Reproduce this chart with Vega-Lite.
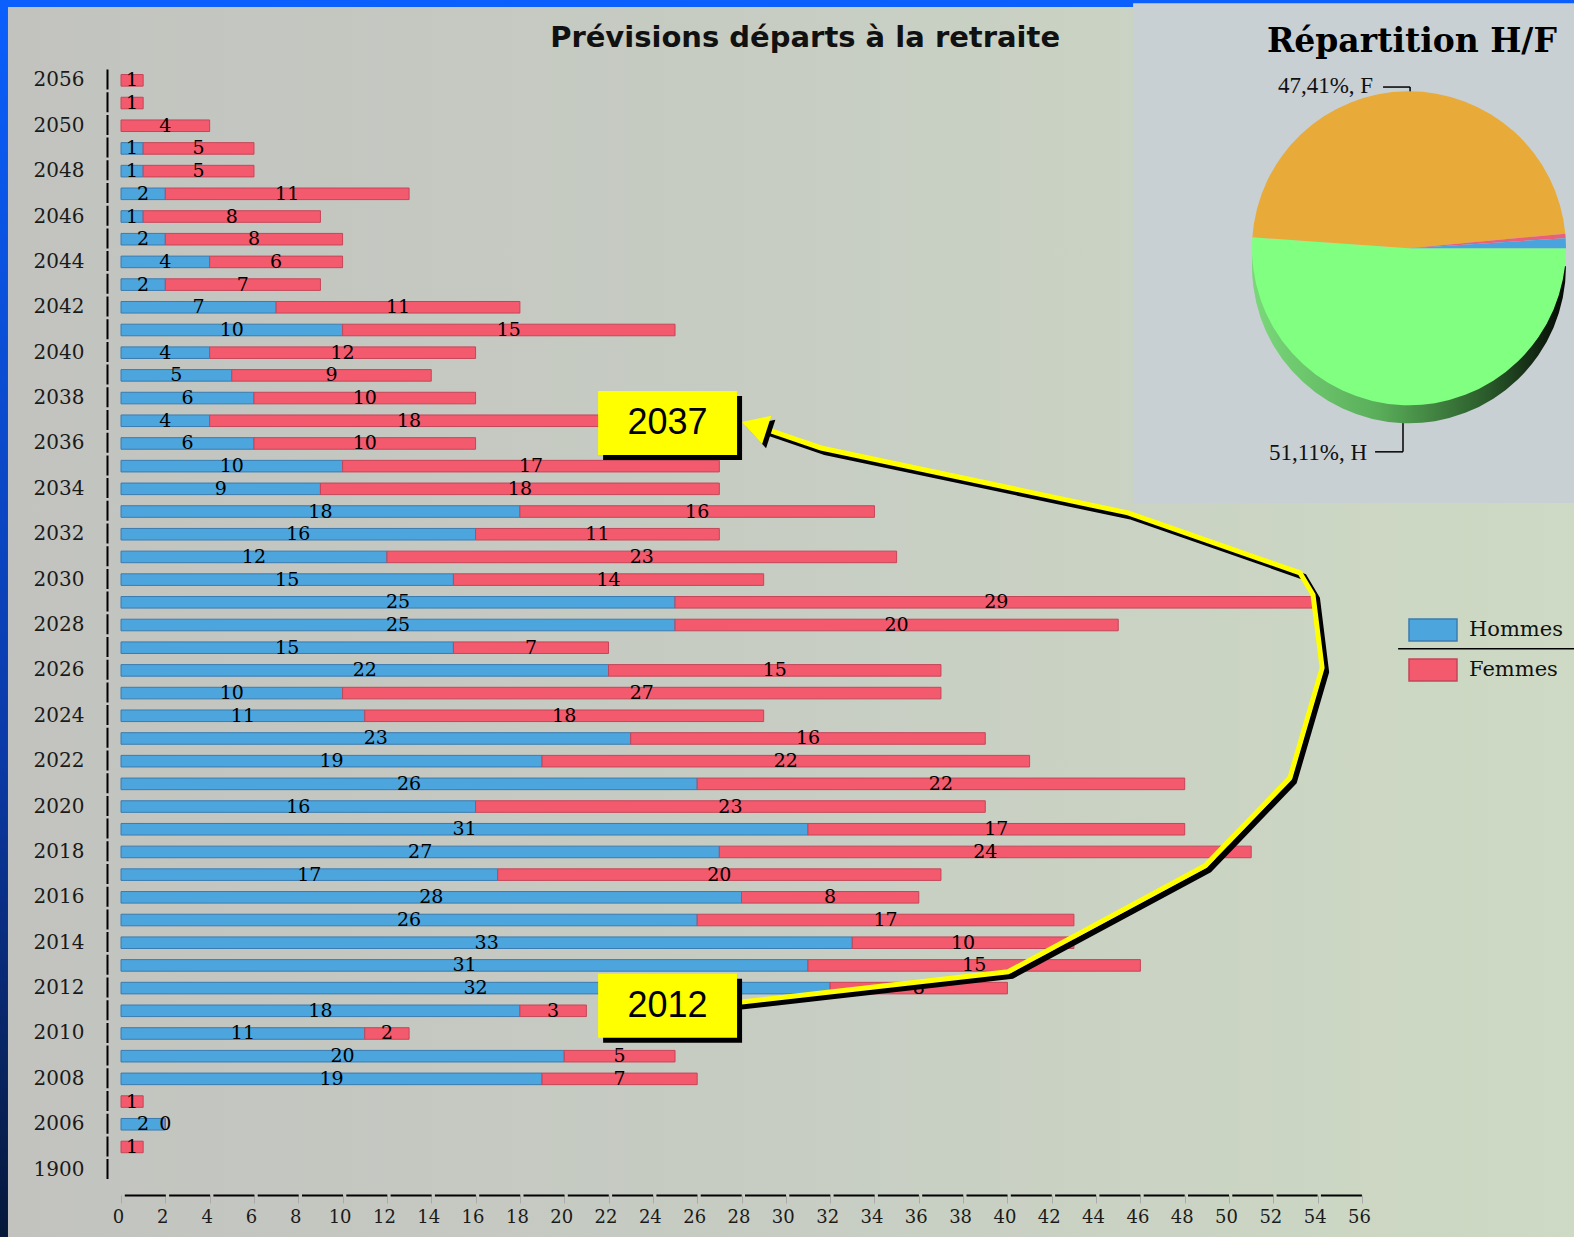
{
  "$schema": "https://vega.github.io/schema/vega-lite/v6.json",
  "width": 1241,
  "height": 1112,
  "autosize": "none",
  "padding": {"left": 121, "top": 69, "right": 212, "bottom": 56},
  "background": "#0a5ef8",
  "config": {"view": {"stroke": null}, "axis": {"grid": false}},
  "datasets": {
    "departs": [
      {"annee": "2056", "sexe": "Femmes", "effectif": 1},
      {"annee": "2051", "sexe": "Femmes", "effectif": 1},
      {"annee": "2050", "sexe": "Femmes", "effectif": 4},
      {"annee": "2049", "sexe": "Hommes", "effectif": 1}, {"annee": "2049", "sexe": "Femmes", "effectif": 5},
      {"annee": "2048", "sexe": "Hommes", "effectif": 1}, {"annee": "2048", "sexe": "Femmes", "effectif": 5},
      {"annee": "2047", "sexe": "Hommes", "effectif": 2}, {"annee": "2047", "sexe": "Femmes", "effectif": 11},
      {"annee": "2046", "sexe": "Hommes", "effectif": 1}, {"annee": "2046", "sexe": "Femmes", "effectif": 8},
      {"annee": "2045", "sexe": "Hommes", "effectif": 2}, {"annee": "2045", "sexe": "Femmes", "effectif": 8},
      {"annee": "2044", "sexe": "Hommes", "effectif": 4}, {"annee": "2044", "sexe": "Femmes", "effectif": 6},
      {"annee": "2043", "sexe": "Hommes", "effectif": 2}, {"annee": "2043", "sexe": "Femmes", "effectif": 7},
      {"annee": "2042", "sexe": "Hommes", "effectif": 7}, {"annee": "2042", "sexe": "Femmes", "effectif": 11},
      {"annee": "2041", "sexe": "Hommes", "effectif": 10}, {"annee": "2041", "sexe": "Femmes", "effectif": 15},
      {"annee": "2040", "sexe": "Hommes", "effectif": 4}, {"annee": "2040", "sexe": "Femmes", "effectif": 12},
      {"annee": "2039", "sexe": "Hommes", "effectif": 5}, {"annee": "2039", "sexe": "Femmes", "effectif": 9},
      {"annee": "2038", "sexe": "Hommes", "effectif": 6}, {"annee": "2038", "sexe": "Femmes", "effectif": 10},
      {"annee": "2037", "sexe": "Hommes", "effectif": 4}, {"annee": "2037", "sexe": "Femmes", "effectif": 18},
      {"annee": "2036", "sexe": "Hommes", "effectif": 6}, {"annee": "2036", "sexe": "Femmes", "effectif": 10},
      {"annee": "2035", "sexe": "Hommes", "effectif": 10}, {"annee": "2035", "sexe": "Femmes", "effectif": 17},
      {"annee": "2034", "sexe": "Hommes", "effectif": 9}, {"annee": "2034", "sexe": "Femmes", "effectif": 18},
      {"annee": "2033", "sexe": "Hommes", "effectif": 18}, {"annee": "2033", "sexe": "Femmes", "effectif": 16},
      {"annee": "2032", "sexe": "Hommes", "effectif": 16}, {"annee": "2032", "sexe": "Femmes", "effectif": 11},
      {"annee": "2031", "sexe": "Hommes", "effectif": 12}, {"annee": "2031", "sexe": "Femmes", "effectif": 23},
      {"annee": "2030", "sexe": "Hommes", "effectif": 15}, {"annee": "2030", "sexe": "Femmes", "effectif": 14},
      {"annee": "2029", "sexe": "Hommes", "effectif": 25}, {"annee": "2029", "sexe": "Femmes", "effectif": 29},
      {"annee": "2028", "sexe": "Hommes", "effectif": 25}, {"annee": "2028", "sexe": "Femmes", "effectif": 20},
      {"annee": "2027", "sexe": "Hommes", "effectif": 15}, {"annee": "2027", "sexe": "Femmes", "effectif": 7},
      {"annee": "2026", "sexe": "Hommes", "effectif": 22}, {"annee": "2026", "sexe": "Femmes", "effectif": 15},
      {"annee": "2025", "sexe": "Hommes", "effectif": 10}, {"annee": "2025", "sexe": "Femmes", "effectif": 27},
      {"annee": "2024", "sexe": "Hommes", "effectif": 11}, {"annee": "2024", "sexe": "Femmes", "effectif": 18},
      {"annee": "2023", "sexe": "Hommes", "effectif": 23}, {"annee": "2023", "sexe": "Femmes", "effectif": 16},
      {"annee": "2022", "sexe": "Hommes", "effectif": 19}, {"annee": "2022", "sexe": "Femmes", "effectif": 22},
      {"annee": "2021", "sexe": "Hommes", "effectif": 26}, {"annee": "2021", "sexe": "Femmes", "effectif": 22},
      {"annee": "2020", "sexe": "Hommes", "effectif": 16}, {"annee": "2020", "sexe": "Femmes", "effectif": 23},
      {"annee": "2019", "sexe": "Hommes", "effectif": 31}, {"annee": "2019", "sexe": "Femmes", "effectif": 17},
      {"annee": "2018", "sexe": "Hommes", "effectif": 27}, {"annee": "2018", "sexe": "Femmes", "effectif": 24},
      {"annee": "2017", "sexe": "Hommes", "effectif": 17}, {"annee": "2017", "sexe": "Femmes", "effectif": 20},
      {"annee": "2016", "sexe": "Hommes", "effectif": 28}, {"annee": "2016", "sexe": "Femmes", "effectif": 8},
      {"annee": "2015", "sexe": "Hommes", "effectif": 26}, {"annee": "2015", "sexe": "Femmes", "effectif": 17},
      {"annee": "2014", "sexe": "Hommes", "effectif": 33}, {"annee": "2014", "sexe": "Femmes", "effectif": 10},
      {"annee": "2013", "sexe": "Hommes", "effectif": 31}, {"annee": "2013", "sexe": "Femmes", "effectif": 15},
      {"annee": "2012", "sexe": "Hommes", "effectif": 32}, {"annee": "2012", "sexe": "Femmes", "effectif": 8},
      {"annee": "2011", "sexe": "Hommes", "effectif": 18}, {"annee": "2011", "sexe": "Femmes", "effectif": 3},
      {"annee": "2010", "sexe": "Hommes", "effectif": 11}, {"annee": "2010", "sexe": "Femmes", "effectif": 2},
      {"annee": "2009", "sexe": "Hommes", "effectif": 20}, {"annee": "2009", "sexe": "Femmes", "effectif": 5},
      {"annee": "2008", "sexe": "Hommes", "effectif": 19}, {"annee": "2008", "sexe": "Femmes", "effectif": 7},
      {"annee": "2007", "sexe": "Femmes", "effectif": 1},
      {"annee": "2006", "sexe": "Hommes", "effectif": 2}, {"annee": "2006", "sexe": "Femmes", "effectif": 0},
      {"annee": "2005", "sexe": "Femmes", "effectif": 1}
    ],
    "repartition": [
      {"part_de": "H", "pourcentage": 51.11, "ordre": 1},
      {"part_de": "F", "pourcentage": 47.41, "ordre": 2},
      {"part_de": "autre 1", "pourcentage": 0.45, "ordre": 3},
      {"part_de": "autre 2", "pourcentage": 1.03, "ordre": 4}
    ],
    "fleche": [
      {"n": 1, "valeur": 27.71, "ligne": 40.65},
      {"n": 2, "valeur": 40.03, "ligne": 39.28},
      {"n": 3, "valeur": 48.92, "ligne": 34.61},
      {"n": 4, "valeur": 52.75, "ligne": 30.73},
      {"n": 5, "valeur": 54.2, "ligne": 25.89},
      {"n": 6, "valeur": 53.79, "ligne": 22.67},
      {"n": 7, "valeur": 53.2, "ligne": 21.7},
      {"n": 8, "valeur": 45.44, "ligne": 19.06},
      {"n": 9, "valeur": 31.59, "ligne": 16.2},
      {"n": 10, "valeur": 29.06, "ligne": 15.36}
    ]
  },
  "layer": [
    {
      "data": {"values": [{}]},
      "layer": [
        {
          "mark": {"type": "rect", "fill": {"gradient": "linear", "x1": 0, "y1": 0, "x2": 0, "y2": 1, "stops": [{"offset": 0, "color": "#0a60ff"}, {"offset": 0.6, "color": "#0b3aa8"}, {"offset": 1, "color": "#061634"}]}},
          "encoding": {
            "x": {"datum": -6, "type": "quantitative", "scale": {"domain": [0, 56], "nice": false, "zero": false}, "axis": null},
            "x2": {"datum": 66},
            "y": {"datum": -4, "type": "quantitative", "scale": {"domain": [-0.5, 48.5], "reverse": true, "nice": false, "zero": false}, "axis": null},
            "y2": {"datum": 52}
          }
        },
        {
          "mark": {"type": "rect", "fill": {"gradient": "linear", "x1": 0, "y1": 0, "x2": 1, "y2": 0, "stops": [{"offset": 0, "color": "#c2c3bf"}, {"offset": 0.5, "color": "#c7cdc3"}, {"offset": 1, "color": "#cedac4"}]}},
          "encoding": {
            "x": {"datum": -5.1, "type": "quantitative", "scale": {"domain": [0, 56], "nice": false, "zero": false}, "axis": null},
            "x2": {"datum": 66},
            "y": {"datum": -3.23, "type": "quantitative", "scale": {"domain": [-0.5, 48.5], "reverse": true, "nice": false, "zero": false}, "axis": null},
            "y2": {"datum": 52}
          }
        },
        {
          "mark": {"type": "rect", "fill": "#c8d0d4"},
          "encoding": {
            "x": {"datum": 45.67, "type": "quantitative", "scale": {"domain": [0, 56], "nice": false, "zero": false}, "axis": null},
            "x2": {"datum": 66},
            "y": {"datum": -3.4, "type": "quantitative", "scale": {"domain": [-0.5, 48.5], "reverse": true, "nice": false, "zero": false}, "axis": null},
            "y2": {"datum": 18.62}
          }
        },
        {
          "mark": {"type": "text", "text": "Prévisions départs à la retraite", "font": "DejaVu Sans", "fontSize": 29, "fontWeight": "bold", "color": "#111111", "align": "center", "baseline": "alphabetic"},
          "encoding": {
            "x": {"datum": 30.87, "type": "quantitative", "scale": {"domain": [0, 56], "nice": false, "zero": false}, "axis": null},
            "y": {"datum": -1.47, "type": "quantitative", "scale": {"domain": [-0.5, 48.5], "reverse": true, "nice": false, "zero": false}, "axis": null}
          }
        }
      ]
    },
    {
      "data": {"name": "departs"},
      "encoding": {
        "y": {
          "field": "annee", "type": "nominal",
          "scale": {"domain": ["2056","2051","2050","2049","2048","2047","2046","2045","2044","2043","2042","2041","2040","2039","2038","2037","2036","2035","2034","2033","2032","2031","2030","2029","2028","2027","2026","2025","2024","2023","2022","2021","2020","2019","2018","2017","2016","2015","2014","2013","2012","2011","2010","2009","2008","2007","2006","2005","1900"], "paddingInner": 0.49, "paddingOuter": 0.245},
          "axis": {
            "orient": "left", "zindex": 1,
            "values": ["2056","2050","2048","2046","2044","2042","2040","2038","2036","2034","2032","2030","2028","2026","2024","2022","2020","2018","2016","2014","2012","2010","2008","2006","1900"],
            "title": null, "ticks": false, "offset": 14,
            "domainColor": "#000000", "domainWidth": 2, "domainDash": [20, 2.7],
            "labelFont": "DejaVu Serif", "labelFontSize": 20, "labelColor": "#1a1a1a", "labelPadding": 23
          }
        }
      },
      "layer": [
        {
          "mark": {"type": "bar", "strokeWidth": 1},
          "encoding": {
            "x": {
              "field": "effectif", "type": "quantitative", "stack": "zero",
              "scale": {"domain": [0, 56], "nice": false, "zero": false},
              "axis": {
                "orient": "bottom", "zindex": 1,
                "values": [0,2,4,6,8,10,12,14,16,18,20,22,24,26,28,30,32,34,36,38,40,42,44,46,48,50,52,54,56],
                "title": null, "offset": 14,
                "domainColor": "#000000", "domainWidth": 2, "domainDash": [41, 3.3], "domainDashOffset": 41,
                "tickColor": "#aaaaaa", "tickSize": 8,
                "labelFont": "DejaVu Serif", "labelFontSize": 18, "labelColor": "#1a1a1a", "labelPadding": 5, "labelOffset": -3,
                "labelFlush": false, "labelOverlap": false
              }
            },
            "color": {
              "field": "sexe", "type": "nominal",
              "scale": {"domain": ["Hommes", "Femmes"], "range": ["#4da5dd", "#f35a6d"]},
              "legend": {
                "orient": "none", "legendX": 1299, "legendY": 548, "title": null, "padding": 0,
                "symbolType": "M-2,-0.92H2V0.92H-2Z", "symbolSize": 576, "symbolStrokeColor": "#6a6a6a", "symbolStrokeWidth": 1.5,
                "labelFont": "DejaVu Serif", "labelFontSize": 21, "labelColor": "#111111", "labelOffset": 23, "rowPadding": 10
              }
            },
            "stroke": {
              "field": "sexe", "type": "nominal",
              "scale": {"domain": ["Hommes", "Femmes"], "range": ["#3a7cb0", "#c44658"]},
              "legend": null
            },
            "order": {"field": "sexe", "sort": "descending"}
          }
        },
        {
          "mark": {"type": "text", "font": "DejaVu Serif", "fontSize": 19, "color": "#000000", "baseline": "middle", "align": "center"},
          "encoding": {
            "x": {"field": "effectif", "type": "quantitative", "stack": "zero", "bandPosition": 0.5, "scale": {"domain": [0, 56], "nice": false, "zero": false}},
            "detail": {"field": "sexe"},
            "order": {"field": "sexe", "sort": "descending"},
            "text": {"field": "effectif", "type": "quantitative"}
          }
        }
      ]
    },
    {
      "layer": [
        {
          "data": {"name": "fleche"},
          "mark": {"type": "line", "color": "#000000", "strokeWidth": 6, "xOffset": 4, "yOffset": 4, "strokeJoin": "miter"},
          "encoding": {
            "x": {"field": "valeur", "type": "quantitative", "scale": {"domain": [0, 56], "nice": false, "zero": false}, "axis": null},
            "y": {"field": "ligne", "type": "quantitative", "scale": {"domain": [-0.5, 48.5], "reverse": true, "nice": false, "zero": false}, "axis": null},
            "order": {"field": "n"}
          }
        },
        {
          "data": {"name": "fleche"},
          "mark": {"type": "line", "color": "#ffff00", "strokeWidth": 5, "strokeJoin": "miter"},
          "encoding": {
            "x": {"field": "valeur", "type": "quantitative", "scale": {"domain": [0, 56], "nice": false, "zero": false}, "axis": null},
            "y": {"field": "ligne", "type": "quantitative", "scale": {"domain": [-0.5, 48.5], "reverse": true, "nice": false, "zero": false}, "axis": null},
            "order": {"field": "n"}
          }
        },
        {
          "data": {"values": [{}]},
          "mark": {"type": "point", "shape": "triangle-left", "size": 900, "angle": 18, "filled": true, "fill": "#000000", "opacity": 1, "strokeWidth": 0, "xOffset": 4, "yOffset": 4},
          "encoding": {
            "x": {"datum": 28.58, "type": "quantitative", "scale": {"domain": [0, 56], "nice": false, "zero": false}, "axis": null},
            "y": {"datum": 15.23, "type": "quantitative", "scale": {"domain": [-0.5, 48.5], "reverse": true, "nice": false, "zero": false}, "axis": null}
          }
        },
        {
          "data": {"values": [{}]},
          "mark": {"type": "point", "shape": "triangle-left", "size": 900, "angle": 18, "filled": true, "fill": "#ffff00", "opacity": 1, "strokeWidth": 0},
          "encoding": {
            "x": {"datum": 28.58, "type": "quantitative", "scale": {"domain": [0, 56], "nice": false, "zero": false}, "axis": null},
            "y": {"datum": 15.23, "type": "quantitative", "scale": {"domain": [-0.5, 48.5], "reverse": true, "nice": false, "zero": false}, "axis": null}
          }
        },
        {
          "data": {"values": [{"etiquette": "2037", "y_haut": 13.69, "y_bas": 16.51, "y_mil": 15.1}, {"etiquette": "2012", "y_haut": 39.37, "y_bas": 42.19, "y_mil": 40.78}]},
          "layer": [
            {
              "mark": {"type": "rect", "fill": "#000000", "xOffset": 5, "x2Offset": 5, "yOffset": 5, "y2Offset": 5},
              "encoding": {
                "x": {"datum": 21.53, "type": "quantitative", "scale": {"domain": [0, 56], "nice": false, "zero": false}, "axis": null},
                "x2": {"datum": 27.8},
                "y": {"field": "y_haut", "type": "quantitative", "scale": {"domain": [-0.5, 48.5], "reverse": true, "nice": false, "zero": false}, "axis": null},
                "y2": {"field": "y_bas"}
              }
            },
            {
              "mark": {"type": "rect", "fill": "#ffff00"},
              "encoding": {
                "x": {"datum": 21.53, "type": "quantitative", "scale": {"domain": [0, 56], "nice": false, "zero": false}, "axis": null},
                "x2": {"datum": 27.8},
                "y": {"field": "y_haut", "type": "quantitative", "scale": {"domain": [-0.5, 48.5], "reverse": true, "nice": false, "zero": false}, "axis": null},
                "y2": {"field": "y_bas"}
              }
            },
            {
              "mark": {"type": "text", "font": "Liberation Sans", "fontSize": 36, "color": "#000000", "align": "center", "baseline": "middle"},
              "encoding": {
                "x": {"datum": 24.66, "type": "quantitative", "scale": {"domain": [0, 56], "nice": false, "zero": false}, "axis": null},
                "y": {"field": "y_mil", "type": "quantitative", "scale": {"domain": [-0.5, 48.5], "reverse": true, "nice": false, "zero": false}, "axis": null},
                "text": {"field": "etiquette"}
              }
            }
          ]
        },
        {
          "data": {"values": [{}]},
          "layer": [
            {
              "mark": {"type": "rule", "color": "#000000", "strokeWidth": 1.5},
              "encoding": {
                "x": {"datum": 56.95, "type": "quantitative", "scale": {"domain": [0, 56], "nice": false, "zero": false}, "axis": null},
                "x2": {"datum": 58.17},
                "y": {"datum": 0.295, "type": "quantitative", "scale": {"domain": [-0.5, 48.5], "reverse": true, "nice": false, "zero": false}, "axis": null}
              }
            },
            {
              "mark": {"type": "rule", "color": "#000000", "strokeWidth": 1.5},
              "encoding": {
                "x": {"datum": 58.17, "type": "quantitative", "scale": {"domain": [0, 56], "nice": false, "zero": false}, "axis": null},
                "y": {"datum": 0.295, "type": "quantitative", "scale": {"domain": [-0.5, 48.5], "reverse": true, "nice": false, "zero": false}, "axis": null},
                "y2": {"datum": 1.31}
              }
            },
            {
              "mark": {"type": "rule", "color": "#000000", "strokeWidth": 1.5},
              "encoding": {
                "x": {"datum": 56.59, "type": "quantitative", "scale": {"domain": [0, 56], "nice": false, "zero": false}, "axis": null},
                "x2": {"datum": 57.85},
                "y": {"datum": 16.37, "type": "quantitative", "scale": {"domain": [-0.5, 48.5], "reverse": true, "nice": false, "zero": false}, "axis": null}
              }
            },
            {
              "mark": {"type": "rule", "color": "#000000", "strokeWidth": 1.5},
              "encoding": {
                "x": {"datum": 57.85, "type": "quantitative", "scale": {"domain": [0, 56], "nice": false, "zero": false}, "axis": null},
                "y": {"datum": 16.37, "type": "quantitative", "scale": {"domain": [-0.5, 48.5], "reverse": true, "nice": false, "zero": false}, "axis": null},
                "y2": {"datum": 14.61}
              }
            },
            {
              "mark": {"type": "rule", "color": "#000000", "strokeWidth": 1.5},
              "encoding": {
                "x": {"datum": 57.63, "type": "quantitative", "scale": {"domain": [0, 56], "nice": false, "zero": false}, "axis": null},
                "x2": {"datum": 66},
                "y": {"datum": 25.05, "type": "quantitative", "scale": {"domain": [-0.5, 48.5], "reverse": true, "nice": false, "zero": false}, "axis": null}
              }
            },
            {
              "mark": {"type": "text", "text": "Répartition H/F", "font": "DejaVu Serif", "fontWeight": "bold", "fontSize": 33, "color": "#000000", "align": "center", "baseline": "alphabetic"},
              "encoding": {
                "x": {"datum": 58.25, "type": "quantitative", "scale": {"domain": [0, 56], "nice": false, "zero": false}, "axis": null},
                "y": {"datum": -1.25, "type": "quantitative", "scale": {"domain": [-0.5, 48.5], "reverse": true, "nice": false, "zero": false}, "axis": null}
              }
            },
            {
              "mark": {"type": "text", "text": "47,41%, F", "font": "Liberation Serif", "fontSize": 23, "color": "#111111", "align": "right", "baseline": "alphabetic"},
              "encoding": {
                "x": {"datum": 56.5, "type": "quantitative", "scale": {"domain": [0, 56], "nice": false, "zero": false}, "axis": null},
                "y": {"datum": 0.56, "type": "quantitative", "scale": {"domain": [-0.5, 48.5], "reverse": true, "nice": false, "zero": false}, "axis": null}
              }
            },
            {
              "mark": {"type": "text", "text": "51,11%, H", "font": "Liberation Serif", "fontSize": 23, "color": "#111111", "align": "right", "baseline": "alphabetic"},
              "encoding": {
                "x": {"datum": 56.23, "type": "quantitative", "scale": {"domain": [0, 56], "nice": false, "zero": false}, "axis": null},
                "y": {"datum": 16.73, "type": "quantitative", "scale": {"domain": [-0.5, 48.5], "reverse": true, "nice": false, "zero": false}, "axis": null}
              }
            }
          ]
        },
        {
          "data": {"name": "repartition"},
          "transform": [{"filter": "datum.part_de === 'H'"}],
          "mark": {"type": "arc", "radius": 157, "yOffset": 18, "fill": {"gradient": "linear", "x1": 0, "y1": 0, "x2": 1, "y2": 0, "stops": [{"offset": 0, "color": "#7ad87a"}, {"offset": 0.4, "color": "#5aae5a"}, {"offset": 0.75, "color": "#2a5a2a"}, {"offset": 1, "color": "#040804"}]}},
          "encoding": {
            "x": {"datum": 58.12, "type": "quantitative", "scale": {"domain": [0, 56], "nice": false, "zero": false}, "axis": null},
            "y": {"datum": 7.4, "type": "quantitative", "scale": {"domain": [-0.5, 48.5], "reverse": true, "nice": false, "zero": false}, "axis": null},
            "theta": {"field": "pourcentage", "type": "quantitative", "scale": {"domain": [0, 100], "range": [1.5708, 7.854]}}
          }
        },
        {
          "data": {"name": "repartition"},
          "mark": {"type": "arc", "radius": 157},
          "encoding": {
            "x": {"datum": 58.12, "type": "quantitative", "scale": {"domain": [0, 56], "nice": false, "zero": false}, "axis": null},
            "y": {"datum": 7.4, "type": "quantitative", "scale": {"domain": [-0.5, 48.5], "reverse": true, "nice": false, "zero": false}, "axis": null},
            "theta": {"field": "pourcentage", "type": "quantitative", "scale": {"domain": [0, 100], "range": [1.5708, 7.854]}},
            "order": {"field": "ordre"},
            "color": {"field": "part_de", "type": "nominal", "scale": {"domain": ["H", "F", "autre 1", "autre 2"], "range": ["#80ff80", "#e8aa38", "#e8607a", "#4aa3dc"]}, "legend": null}
          }
        }
      ]
    }
  ],
  "resolve": {
    "scale": {"x": "independent", "y": "independent", "color": "independent", "stroke": "independent"},
    "axis": {"x": "independent", "y": "independent"}
  }
}
